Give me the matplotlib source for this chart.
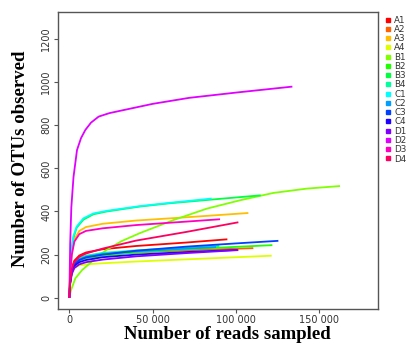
import numpy as np
import matplotlib
matplotlib.use('Agg')
import matplotlib.pyplot as plt
from matplotlib.lines import Line2D

# sample names and colours (R rainbow(16))
samples = ['A1', 'A2', 'A3', 'A4', 'B1', 'B2', 'B3', 'B4',
           'C1', 'C2', 'C3', 'C4', 'D1', 'D2', 'D3', 'D4']
colors = ['#FF0000', '#FF6000', '#FFBF00', '#DFFF00', '#80FF00', '#20FF00', '#00FF40', '#00FF9F',
          '#00FFFF', '#009FFF', '#0040FF', '#2000FF', '#8000FF', '#DF00FF', '#FF00BF', '#FF0060']

# rarefaction curves: reads sampled / OTUs observed
A1_x = [0, 500, 1500, 3000, 6000, 10000, 20000, 40000, 70000, 94800]
A1_y = [0, 80, 140, 172, 196, 210, 225, 240, 256, 271]
A2_x = [0, 500, 1500, 3000, 6000, 10000, 20000, 40000, 70000, 110400]
A2_y = [0, 75, 130, 160, 180, 190, 200, 210, 220, 230]
A3_x = [0, 500, 1500, 3000, 6000, 10000, 20000, 40000, 70000, 107400]
A3_y = [0, 110, 210, 270, 310, 328, 343, 358, 373, 393]
A4_x = [0, 500, 1500, 3000, 6000, 10000, 20000, 40000, 70000, 121400]
A4_y = [0, 70, 115, 138, 150, 155, 160, 168, 178, 195]
B1_x = [0, 1000, 3600, 7600, 12400, 15600, 22400, 31200, 42400, 62400, 82400, 102400, 122400, 142400, 162400]
B1_y = [0, 35, 90, 128, 160, 185, 222, 262, 300, 360, 413, 452, 486, 506, 518]
B2_x = [0, 500, 1500, 3000, 6000, 10000, 20000, 40000, 70000, 100000, 121800]
B2_y = [0, 70, 120, 150, 172, 183, 195, 210, 225, 236, 244]
B3_x = [0, 500, 1200, 2400, 4400, 8400, 14400, 22400, 42400, 60000, 85000, 100000, 114800]
B3_y = [0, 110, 210, 275, 325, 362, 387, 400, 423, 438, 455, 465, 475]
B4_x = [0, 500, 1500, 3000, 6000, 10000, 20000, 40000, 70000, 90000]
B4_y = [0, 75, 130, 160, 183, 195, 208, 220, 232, 240]
C1_x = [0, 500, 1200, 2400, 4400, 8400, 14400, 22400, 42400, 60000, 85400]
C1_y = [0, 120, 220, 285, 330, 368, 391, 403, 425, 440, 460]
C2_x = [0, 500, 1500, 3000, 6000, 10000, 20000, 40000, 70000, 88000]
C2_y = [0, 72, 125, 155, 178, 190, 203, 215, 228, 235]
C3_x = [0, 500, 1500, 3000, 6000, 10000, 20000, 40000, 70000, 100000, 125400]
C3_y = [0, 72, 125, 155, 175, 187, 200, 218, 237, 252, 264]
C4_x = [0, 500, 1500, 3000, 6000, 10000, 20000, 40000, 70000, 101000]
C4_y = [0, 70, 120, 148, 165, 175, 188, 200, 212, 222]
D1_x = [0, 500, 1500, 3000, 6000, 10000, 20000, 40000, 70000, 101400]
D1_y = [0, 65, 110, 138, 155, 165, 177, 192, 207, 221]
D2_x = [0, 500, 1200, 2500, 4600, 7000, 9600, 13000, 17600, 24000, 31200, 50000, 72000, 102000, 133800]
D2_y = [0, 250, 420, 560, 685, 740, 778, 812, 840, 856, 868, 899, 927, 953, 979]
D3_x = [0, 500, 1500, 3000, 6000, 10000, 20000, 40000, 70000, 90400]
D3_y = [0, 110, 200, 260, 295, 310, 322, 337, 353, 364]
D4_x = [0, 500, 1500, 3000, 6000, 10000, 20000, 40000, 70000, 101400]
D4_y = [0, 80, 135, 165, 190, 205, 228, 265, 305, 350]

curves = [(A1_x, A1_y), (A2_x, A2_y), (A3_x, A3_y), (A4_x, A4_y),
          (B1_x, B1_y), (B2_x, B2_y), (B3_x, B3_y), (B4_x, B4_y),
          (C1_x, C1_y), (C2_x, C2_y), (C3_x, C3_y), (C4_x, C4_y),
          (D1_x, D1_y), (D2_x, D2_y), (D3_x, D3_y), (D4_x, D4_y)]

x_ticks = [0, 50000, 100000, 150000]
y_ticks = [0, 200, 400, 600, 800, 1000, 1200]

fig = plt.figure(figsize=(4.09, 3.46), dpi=100)
ax = fig.add_axes([0.141, 0.107, 0.7825, 0.859])

for (xs, ys), c in zip(curves, colors):
    ax.plot(xs, ys, color=c, lw=1.3, solid_capstyle='butt')

ax.set_xlim(-7000, 185000)
ax.set_ylim(-52, 1326)
ax.set_xticks(x_ticks)
ax.set_xticklabels([f'{v:,}'.replace(',', ' ') for v in x_ticks])
ax.set_yticks(y_ticks)
ax.set_yticklabels([str(v) for v in y_ticks], rotation=90, va='center')

for s in ax.spines.values():
    s.set_color('#555555')
    s.set_linewidth(1.0)
ax.tick_params(colors='#555555', labelcolor='#333333', labelsize=7, length=3, width=0.8, pad=1.5)

fig.text(0.557, 0.019, 'Number of reads sampled', ha='center', va='baseline',
         family='Liberation Serif', fontweight='bold', fontsize=13.5)
fig.text(0.05, 0.54, 'Number of OTUs observed', ha='center', va='center', rotation=90,
         family='Liberation Serif', fontweight='bold', fontsize=13.5)

handles = [Line2D([], [], ls='', marker='s', markersize=3.2, color=c) for c in colors]
leg = fig.legend(handles, samples, loc='upper left', bbox_to_anchor=(0.94, 0.955),
                 frameon=False, fontsize=6.3, handlelength=0.8, handletextpad=0.3,
                 labelspacing=0.03, borderaxespad=0, borderpad=0)
for t in leg.get_texts():
    t.set_color('#333333')

fig.savefig('out.png', dpi=100)
